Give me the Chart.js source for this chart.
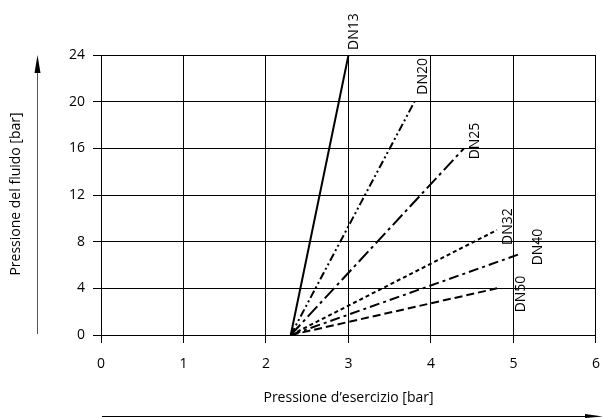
<!DOCTYPE html>
<html>
<head>
<meta charset="utf-8">
<script src="https://cdn.jsdelivr.net/npm/chart.js@4/dist/chart.umd.min.js"></script>
<style>
  html, body { margin: 0; padding: 0; background: #fff; }
  #wrap { width: 613px; height: 418px; }
</style>
</head>
<body>
<div id="wrap"><canvas id="c" width="613" height="418"></canvas></div>
<script>
// data
const seriesNames = ['DN13', 'DN20', 'DN25', 'DN32', 'DN40', 'DN50'];
const startX = [2.3, 2.3, 2.3, 2.3, 2.3, 2.3];
const startY = [0, 0, 0, 0, 0, 0];
const endX = [3.0, 3.8, 4.4, 4.8, 5.1, 4.8];
const endY = [24, 20, 16, 9, 7, 4];
const xTicks = [0, 1, 2, 3, 4, 5, 6];
const yTicks = [0, 4, 8, 12, 16, 20, 24];

// styles
const dashes = [[], [8, 3, 2, 3, 2, 3], [14, 4, 3, 4], [4, 3], [10, 4, 3, 4], [8, 4]];
const labelOffsets = [[6, -5], [9, -7], [11, 11], [11, 15], [16, 12], [24, 24]];
const FONT = '"Open Sans", "Noto Sans", sans-serif';

const datasets = seriesNames.map((name, i) => ({
    label: name,
    data: [{ x: startX[i], y: startY[i] }, { x: endX[i], y: endY[i] }],
    borderColor: '#000',
    borderWidth: 2,
    borderDash: dashes[i],
    pointRadius: 0,
    fill: false,
    tension: 0
}));

const decorations = {
    id: 'decorations',
    afterDatasetsDraw(chart) {
        const ctx = chart.ctx;
        const xs = chart.scales.x, ys = chart.scales.y;
        ctx.save();
        ctx.fillStyle = '#000';
        ctx.font = '14px ' + FONT;
        ctx.textBaseline = 'middle';
        ctx.textAlign = 'left';
        seriesNames.forEach((name, i) => {
            const px = xs.getPixelForValue(endX[i]) + labelOffsets[i][0];
            const py = ys.getPixelForValue(endY[i]) + labelOffsets[i][1];
            ctx.save();
            ctx.translate(px, py);
            ctx.rotate(-Math.PI / 2);
            ctx.fillText(name, 0, 0);
            ctx.restore();
        });

        // axis titles
        const area = chart.chartArea;
        ctx.textAlign = 'center';
        ctx.fillText('Pressione d\u2019esercizio [bar]', (area.left + area.right) / 2, 398);
        ctx.save();
        ctx.translate(16, 194);
        ctx.rotate(-Math.PI / 2);
        ctx.fillText('Pressione del fluido [bar]', 0, 0);
        ctx.restore();

        // arrows
        ctx.strokeStyle = '#555';
        ctx.lineWidth = 1;
        ctx.beginPath();
        ctx.moveTo(37.5, 334);
        ctx.lineTo(37.5, 66);
        ctx.stroke();
        ctx.fillStyle = '#000';
        ctx.beginPath();
        ctx.moveTo(37.5, 55);
        ctx.lineTo(34.5, 73);
        ctx.lineTo(40.5, 73);
        ctx.closePath();
        ctx.fill();

        ctx.strokeStyle = '#000';
        ctx.beginPath();
        ctx.moveTo(102, 416.5);
        ctx.lineTo(592, 416.5);
        ctx.stroke();
        ctx.beginPath();
        ctx.moveTo(603, 416.5);
        ctx.lineTo(585, 414);
        ctx.lineTo(585, 418);
        ctx.closePath();
        ctx.fill();
        ctx.restore();
    }
};

new Chart(document.getElementById('c'), {
    type: 'line',
    data: { datasets: datasets },
    options: {
        responsive: false,
        animation: false,
        layout: { padding: { top: 55, right: 12, left: 0, bottom: 0 } },
        plugins: {
            legend: { display: false },
            tooltip: { enabled: false }
        },
        scales: {
            x: {
                type: 'linear',
                min: 0,
                max: 6,
                afterBuildTicks(s) { s.ticks = xTicks.map(v => ({ value: v })); },
                afterFit(s) { s.height = 83; },
                grid: { color: '#000', lineWidth: 1, tickLength: 8, drawTicks: true },
                border: { color: '#000', width: 1 },
                ticks: { color: '#000', font: { family: FONT, size: 14 }, padding: 13, maxRotation: 0 }
            },
            y: {
                type: 'linear',
                min: 0,
                max: 24,
                afterBuildTicks(s) { s.ticks = yTicks.map(v => ({ value: v })); },
                afterFit(s) { s.width = 101; },
                grid: { color: '#000', lineWidth: 1, tickLength: 8, drawTicks: true },
                border: { color: '#000', width: 1 },
                ticks: { color: '#000', font: { family: FONT, size: 14 }, padding: 8 }
            }
        }
    },
    plugins: [decorations]
});
</script>
</body>
</html>
